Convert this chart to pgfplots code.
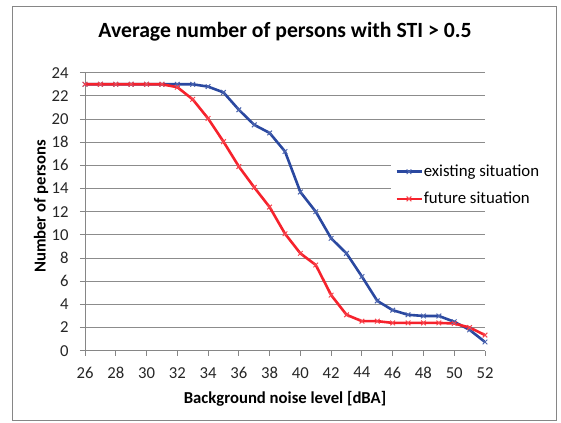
\documentclass[border=0pt]{standalone}
\usepackage{pgfplots}
\pgfplotsset{compat=1.18}
\usepackage{fontspec}
\setmainfont{Carlito}
\definecolor{exblue}{RGB}{42,72,160}
\definecolor{fured}{RGB}{246,34,44}
\definecolor{gridgray}{RGB}{140,140,140}
\definecolor{framegray}{RGB}{134,134,134}
\begin{document}
\begin{tikzpicture}
\useasboundingbox (0bp,0bp) rectangle (561bp,-423bp);
\draw[framegray, line width=0.9bp] (12bp,-6.5bp) rectangle (556.5bp,-420.5bp);
\begin{axis}[
  at={(85bp,-350.7bp)}, anchor=south west,
  scale only axis, width=400bp, height=278bp,
  xmin=26, xmax=52, ymin=0, ymax=24,
  xtick={26,28,...,52}, ytick={0,2,...,24},
  axis x line=bottom, axis y line=left,
  axis line style={-, framegray, line width=0.9bp},
  tick style={framegray, line width=0.9bp},
  tick align=outside, major tick length=5bp,
  ymajorgrids, grid style={gridgray, line width=0.9bp},
  /pgf/number format/assume math mode=true,
  tick label style={font=\fontsize{16.7bp}{20bp}\selectfont, text=black!85},
  xticklabel style={yshift=-8bp},
  yticklabel style={xshift=-8bp},
  title={\textbf{Average number of persons with STI > 0.5}},
  title style={font=\fontsize{21.7bp}{25bp}\selectfont, at={(0.5,1.15)}, anchor=center, yshift=-7bp},
  xlabel={\textbf{Background noise level [dBA]}},
  xlabel style={font=\fontsize{16.7bp}{20bp}\selectfont, at={(0.5,-0.174)}, anchor=center},
  ylabel={\textbf{Number of persons}},
  ylabel style={font=\fontsize{16.7bp}{20bp}\selectfont, at={(-0.11,0.519)}, anchor=center},
  legend style={at={(0.765,0.686)}, anchor=north west, fill=white, draw=none,
    font=\fontsize{16.8bp}{20bp}\selectfont, inner xsep=4bp, inner ysep=3bp, row sep=10bp,
    nodes={inner xsep=1bp, inner ysep=2bp}},
  legend cell align=left,
  legend image code/.code={\draw[mark repeat=2,mark phase=2,#1] plot coordinates {(0bp,0bp) (12.5bp,0bp) (25bp,0bp)};},
]
\addplot[exblue, line width=2.6bp, mark=x, mark size=3.3bp, mark options={line width=1bp, exblue!85!white}] coordinates {
(26,23) (27,23) (28,23) (29,23) (30,23) (31,23) (32,23) (33,23) (34,22.8) (35,22.3)
(36,20.8) (37,19.5) (38,18.8) (39,17.2) (40,13.7) (41,12.0) (42,9.7) (43,8.4) (44,6.4)
(45,4.3) (46,3.5) (47,3.1) (48,3.0) (49,3.0) (50,2.5) (51,1.8) (52,0.75)};
\addlegendentry{existing situation}
\addplot[fured, line width=2.6bp, mark=x, mark size=3.3bp, mark options={line width=1bp, fured!85!white}] coordinates {
(26,23) (27,23) (28,23) (29,23) (30,23) (31,23) (32,22.75) (33,21.7) (34,20.05) (35,18.05)
(36,15.9) (37,14.1) (38,12.4) (39,10.1) (40,8.4) (41,7.4) (42,4.8) (43,3.1) (44,2.55)
(45,2.55) (46,2.4) (47,2.4) (48,2.4) (49,2.4) (50,2.35) (51,2.0) (52,1.35)};
\addlegendentry{future situation}
\end{axis}
\end{tikzpicture}
\end{document}
